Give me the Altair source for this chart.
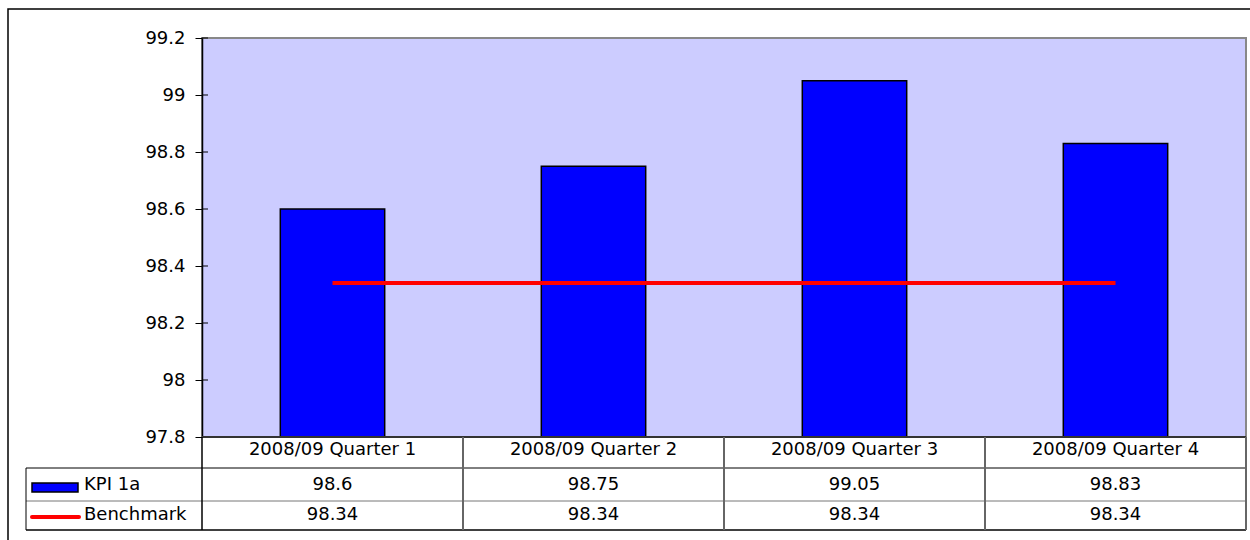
import altair as alt
import pandas as pd

categories = ["2008/09 Quarter 1", "2008/09 Quarter 2", "2008/09 Quarter 3", "2008/09 Quarter 4"]
kpi_values = [98.6, 98.75, 99.05, 98.83]
benchmark_values = [98.34, 98.34, 98.34, 98.34]
kpi_labels = ["98.6", "98.75", "99.05", "98.83"]
benchmark_labels = ["98.34", "98.34", "98.34", "98.34"]
y_ticks = [97.8, 98.0, 98.2, 98.4, 98.6, 98.8, 99.0, 99.2]
series_names = ["KPI 1a", "Benchmark"]

W, H = 1044, 399
FONT = "DejaVu Sans"
FS = 18

df = pd.DataFrame({
    "cat": categories,
    "kpi": kpi_values,
    "bench": benchmark_values,
    "kpi_label": kpi_labels,
    "bench_label": benchmark_labels,
})
ticks_df = pd.DataFrame({"t": y_ticks})
one = pd.DataFrame({"a": [0]})

xs = alt.Scale(domain=categories, paddingInner=0, paddingOuter=0)
x = alt.X("cat:N", sort=categories, scale=xs, axis=None)
ys = alt.Scale(domain=[97.8, 99.2], zero=False, nice=False)

bars = alt.Chart(df).mark_bar(
    color="#0000FF", stroke="black", strokeWidth=1.5, width={"band": 0.4}
).encode(
    x=x,
    y=alt.Y("kpi:Q", scale=ys, axis=alt.Axis(
        values=y_ticks, format="~g", title=None, grid=False,
        domainColor="black", domainWidth=1.5, tickColor="black", tickSize=7,
        tickWidth=1, labelFont=FONT, labelFontSize=FS, labelColor="black",
        labelPadding=10)),
    y2=alt.datum(97.8),
)

line = alt.Chart(df).mark_line(color="#FF0000", strokeWidth=4).encode(
    x=x, y=alt.Y("bench:Q", scale=ys)
)

inner_ticks = alt.Chart(ticks_df).mark_rule(color="black", strokeWidth=1).encode(
    y=alt.Y("t:Q", scale=ys), x=alt.value(0), x2=alt.value(6)
)

def hrule(y, x1, x2, color, w=1):
    return alt.Chart(one).mark_rule(color=color, strokeWidth=w).encode(
        x=alt.value(x1), x2=alt.value(x2), y=alt.value(y))

def vrule(xv, y1, y2, color, w=1):
    return alt.Chart(one).mark_rule(color=color, strokeWidth=w).encode(
        x=alt.value(xv), y=alt.value(y1), y2=alt.value(y2))

TOP, MID, BOT, LEFT = 430, 463, 492, -176

grid = [
    hrule(H, 0, W, "#333333", 2),
    hrule(TOP, LEFT, W, "black", 1),
    hrule(MID, LEFT, W, "#777777", 1),
    hrule(BOT, LEFT, W, "black", 1.5),
    vrule(LEFT, TOP, BOT, "black", 1),
    vrule(0, H, BOT, "black", 1.5),
]

col_lines = alt.Chart(df).mark_rule(color="#666666", strokeWidth=2).encode(
    x=alt.X("cat:N", sort=categories, scale=xs, axis=None, bandPosition=1),
    y=alt.value(H), y2=alt.value(BOT)
)

cat_text = alt.Chart(df).mark_text(font=FONT, fontSize=FS, color="black", baseline="middle").encode(
    x=x, y=alt.value(412), text="cat:N")
kpi_text = alt.Chart(df).mark_text(font=FONT, fontSize=FS, color="black", baseline="middle").encode(
    x=x, y=alt.value(447), text="kpi_label:N")
bench_text = alt.Chart(df).mark_text(font=FONT, fontSize=FS, color="black", baseline="middle").encode(
    x=x, y=alt.value(477), text="bench_label:N")

hdr = pd.DataFrame({"name": series_names, "yy": [447, 477]})
hdr_text = alt.Chart(hdr).mark_text(font=FONT, fontSize=FS, color="black", baseline="middle", align="left").encode(
    x=alt.value(-118), y=alt.Y("yy:Q", scale=None), text="name:N")

kpi_sym = alt.Chart(one).mark_rect(color="#0000FF", stroke="black", strokeWidth=1.5).encode(
    x=alt.value(-170), x2=alt.value(-124), y=alt.value(445), y2=alt.value(454))
bench_sym = alt.Chart(one).mark_rule(color="#FF0000", strokeWidth=4, strokeCap="round").encode(
    x=alt.value(-170), x2=alt.value(-123), y=alt.value(479))

border = alt.Chart(one).mark_rect(fill=None, fillOpacity=0, stroke="black", strokeWidth=1.5).encode(
    x=alt.value(-194), x2=alt.value(1070), y=alt.value(-29), y2=alt.value(520))

chart = alt.layer(
    bars, line, inner_ticks, *grid, col_lines, cat_text, kpi_text, bench_text,
    hdr_text, kpi_sym, bench_sym, border
).properties(
    width=W, height=H,
    autosize=alt.AutoSizeParams(type="none"),
    padding={"left": 202, "top": 38, "right": 4, "bottom": 103},
    background="white",
).configure_view(
    fill="#CCCCFF", stroke="#888888", strokeWidth=2
)

chart.save("out.html", embed_options={"renderer": "svg", "actions": False})
